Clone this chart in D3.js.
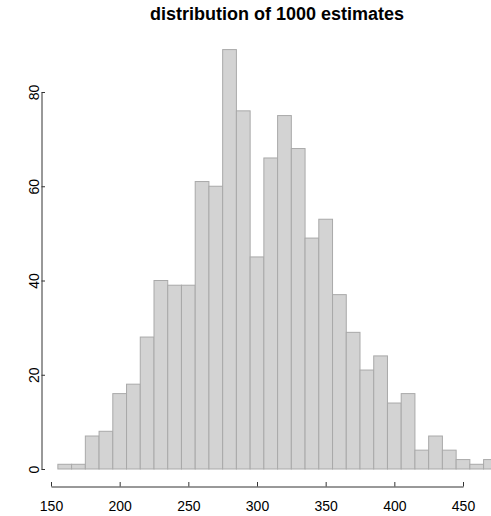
<!DOCTYPE html>
<html>
<head>
<meta charset="utf-8">
<script src="https://cdn.jsdelivr.net/npm/d3@7"></script>
<style>
  body { margin: 0; background: #fff; }
  text { font-family: "Liberation Sans", Arial, sans-serif; }
</style>
</head>
<body>
<svg id="chart"></svg>
<script>
// bin edges (width 10) and counts
let binStarts = [155, 165, 175, 185, 195, 205, 215, 225, 235, 245, 255, 265, 275, 285, 295, 305,
                 315, 325, 335, 345, 355, 365, 375, 385, 395, 405, 415, 425, 435, 445, 455, 465];
let counts = [1, 1, 7, 8, 16, 18, 28, 40, 39, 39, 61, 60, 89, 76, 45, 66,
              75, 68, 49, 53, 37, 29, 21, 24, 14, 16, 4, 7, 4, 2, 1, 2];
let binWidth = 10;
let xTicks = [150, 200, 250, 300, 350, 400, 450];
let yTicks = [0, 20, 40, 60, 80];
let title = "distribution of 1000 estimates";

let W = 491, H = 516;
let svg = d3.select('#chart').attr('width', W).attr('height', H);

let scX = d3.scaleLinear().domain([150, 450]).range([51, 463]);
let scY = d3.scaleLinear().domain([0, 80]).range([469, 92]);

let bins = binStarts.map((s, i) => ({ x0: s, x1: s + binWidth, n: counts[i] }));

// bars
svg.append('g').selectAll('rect')
    .data(bins).enter().append('rect')
    .attr('x', d => scX(d.x0))
    .attr('y', d => scY(d.n))
    .attr('width', d => scX(d.x1) - scX(d.x0))
    .attr('height', d => scY(0) - scY(d.n))
    .attr('fill', '#d3d3d3')
    .attr('stroke', '#a9a9a9')
    .attr('stroke-width', 1);

// x axis (ticks pointing inward, like the original)
let gx = svg.append('g')
    .attr('transform', 'translate(0,486.5)')
    .call(d3.axisBottom(scX).tickValues(xTicks).tickSizeInner(-4.5).tickSizeOuter(0).tickPadding(14.5));
gx.select('.domain').attr('stroke', '#333');
gx.selectAll('.tick line').attr('stroke', '#333');
gx.selectAll('.tick text').attr('font-size', 14).attr('fill', '#000')
    .attr('font-family', '"Liberation Sans", Arial, sans-serif');

// y axis
let gy = svg.append('g')
    .attr('transform', 'translate(41.5,0)')
    .call(d3.axisLeft(scY).tickValues(yTicks).tickSizeInner(-3.5).tickSizeOuter(0).tickPadding(6));
gy.select('.domain').attr('stroke', '#333');
gy.selectAll('.tick line').attr('stroke', '#333');
gy.selectAll('.tick text')
    .attr('font-size', 14).attr('fill', '#000')
    .attr('font-family', '"Liberation Sans", Arial, sans-serif')
    .attr('text-anchor', 'middle')
    .attr('dy', 0)
    .attr('x', 0).attr('y', 0)
    .attr('transform', 'translate(-3,0) rotate(-90)');

// title
svg.append('text')
    .attr('x', 277).attr('y', 20)
    .attr('text-anchor', 'middle')
    .attr('font-size', 18).attr('font-weight', 'bold')
    .text(title);
</script>
</body>
</html>
